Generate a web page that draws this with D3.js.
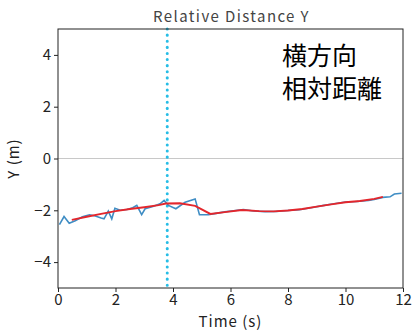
<!DOCTYPE html>
<html>
<head>
<meta charset="utf-8">
<script src="https://cdn.jsdelivr.net/npm/d3@7"></script>
<style>
  html, body { margin: 0; padding: 0; background: #fff; }
  svg { display: block; }
  text { font-family: "Noto Sans CJK JP", "Noto Sans", sans-serif; }
</style>
</head>
<body>
<div id="chart"></div>
<script>
// Measured lateral distance (raw) over time
const rawTime = [0.05, 0.21, 0.39, 0.6, 0.85, 1.1, 1.3, 1.5, 1.6, 1.75, 1.87, 1.98, 2.16, 2.4, 2.6, 2.74, 2.91, 3.03, 3.3, 3.55, 3.69, 3.84, 4.10, 4.42, 4.77, 4.92, 5.23, 5.5, 5.8, 6.1, 6.45, 6.8, 7.2, 7.6, 8.0, 8.4, 8.8, 9.2, 9.6, 10.0, 10.4, 10.8, 11.0, 11.3, 11.55, 11.7, 11.95];
const rawY    = [-2.55, -2.24, -2.50, -2.40, -2.25, -2.17, -2.22, -2.30, -2.33, -2.03, -2.33, -1.92, -2.00, -1.97, -1.90, -1.81, -2.17, -1.94, -1.85, -1.75, -1.62, -1.81, -1.94, -1.69, -1.56, -2.17, -2.17, -2.12, -2.06, -2.02, -1.97, -2.03, -2.05, -2.04, -2.01, -1.98, -1.90, -1.82, -1.75, -1.68, -1.66, -1.62, -1.58, -1.50, -1.48, -1.37, -1.34];

// Smoothed estimate
const fitTime = [0.48, 1.0, 1.5, 2.0, 2.5, 3.0, 3.5, 3.75, 4.24, 4.77, 5.3, 5.8, 6.4, 7.0, 7.5, 8.0, 8.5, 9.0, 9.5, 10.0, 10.5, 11.0, 11.3];
const fitY    = [-2.37, -2.25, -2.14, -2.03, -1.95, -1.88, -1.80, -1.74, -1.73, -1.83, -2.14, -2.07, -1.99, -2.03, -2.04, -2.01, -1.95, -1.86, -1.77, -1.69, -1.64, -1.56, -1.48];

// Event marker time
const markerTime = 3.8;

const xTicks = [0, 2, 4, 6, 8, 10, 12];
const yTicks = [-4, -2, 0, 2, 4];

const W = 416, H = 331;
const margin = { top: 29, right: 13, bottom: 43, left: 58 };

const svg = d3.select("#chart").append("svg")
  .attr("width", W).attr("height", H);

const x = d3.scaleLinear().domain([0, 12]).range([margin.left, W - margin.right]);
const y = d3.scaleLinear().domain([-5, 5]).range([H - margin.bottom, margin.top]);

// zero reference line
svg.append("line")
  .attr("x1", x(0)).attr("x2", x(12))
  .attr("y1", y(0)).attr("y2", y(0))
  .attr("stroke", "#c8c8c8").attr("stroke-width", 1.2);

// event marker
svg.append("line")
  .attr("x1", x(markerTime)).attr("x2", x(markerTime))
  .attr("y1", y(5)).attr("y2", y(-5))
  .attr("stroke", "#26bde6").attr("stroke-width", 3)
  .attr("stroke-linecap", "round")
  .attr("stroke-dasharray", "0.1 6");

const line = d3.line().x(d => x(d[0])).y(d => y(d[1]));

svg.append("path")
  .datum(d3.zip(rawTime, rawY))
  .attr("d", line)
  .attr("fill", "none")
  .attr("stroke", "#3f8dc4").attr("stroke-width", 1.6);

svg.append("path")
  .datum(d3.zip(fitTime, fitY))
  .attr("d", line)
  .attr("fill", "none")
  .attr("stroke", "#e3262c").attr("stroke-width", 1.9);

// frame
svg.append("rect")
  .attr("x", margin.left).attr("y", margin.top)
  .attr("width", W - margin.left - margin.right)
  .attr("height", H - margin.top - margin.bottom)
  .attr("fill", "none").attr("stroke", "#222").attr("stroke-width", 1);

// axes
const xAxis = svg.append("g")
  .attr("transform", `translate(0,${H - margin.bottom})`)
  .call(d3.axisBottom(x).tickValues(xTicks).tickSize(4).tickPadding(2).tickFormat(d3.format("d")));
const yAxis = svg.append("g")
  .attr("transform", `translate(${margin.left},0)`)
  .call(d3.axisLeft(y).tickValues(yTicks).tickSize(4).tickPadding(3).tickFormat(d => d < 0 ? "\u2212" + Math.abs(d) : d));

[xAxis, yAxis].forEach(g => {
  g.select(".domain").remove();
  g.selectAll(".tick line").attr("stroke", "#222");
  g.selectAll(".tick text")
    .attr("fill", "#222")
    .style("font-size", "15px")
    .style("font-family", "'Noto Sans CJK JP', sans-serif");
});

// title and axis labels
svg.append("text")
  .attr("x", (x(0) + x(12)) / 2 + 1).attr("y", 22)
  .attr("text-anchor", "middle")
  .attr("fill", "#444").style("font-size", "15px")
  .style("letter-spacing", "1.4px")
  .text("Relative Distance Y");

svg.append("text")
  .attr("x", (x(0) + x(12)) / 2).attr("y", 327)
  .attr("text-anchor", "middle")
  .attr("fill", "#222").style("font-size", "15px")
  .style("letter-spacing", "1px")
  .text("Time (s)");

svg.append("text")
  .attr("transform", `translate(19,${(y(-5) + y(5)) / 2}) rotate(-90)`)
  .attr("text-anchor", "middle")
  .attr("fill", "#222").style("font-size", "15px")
  .style("letter-spacing", "1px")
  .text("Y (m)");

// annotation
const note = svg.append("text")
  .attr("fill", "#000")
  .style("font-family", "'Noto Sans CJK JP', sans-serif")
  .style("font-size", "25px");
note.append("tspan").attr("x", 282).attr("y", 65).text("横方向");
note.append("tspan").attr("x", 282).attr("y", 98).text("相対距離");
</script>
</body>
</html>
